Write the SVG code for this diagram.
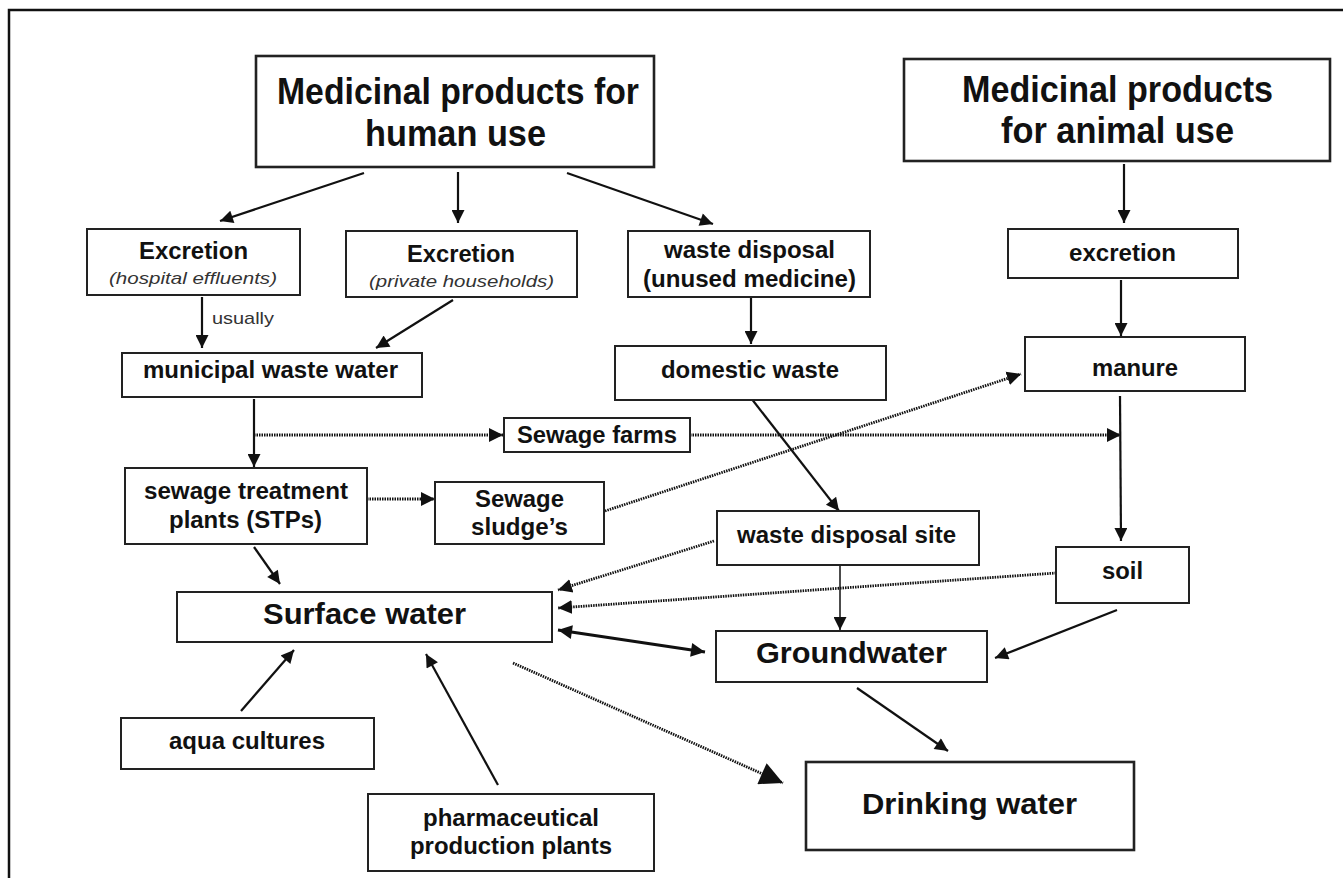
<svg xmlns="http://www.w3.org/2000/svg" width="1343" height="878" viewBox="0 0 1343 878">
<style>
.box{fill:#fff;stroke:#222;stroke-width:2}
.bbox{fill:#fff;stroke:#222;stroke-width:2.6}
text{font-family:"Liberation Sans",Arial,sans-serif;fill:#111;text-anchor:middle}
.t{font-size:37px;font-weight:bold}
.m{font-size:23px;font-weight:bold}
.l{font-size:30px;font-weight:bold}
.i{font-size:17px;font-style:italic;fill:#333}
.s{font-size:17px;fill:#333;text-anchor:start}
.c{fill:none;stroke:#111;stroke-width:2.2}
.thin{stroke-width:1.5}
.thick{stroke-width:3.2}
.d{fill:none;stroke:#111;stroke-width:2.8;stroke-dasharray:1.5 1}
</style>
<defs>
<marker id="ah" markerUnits="userSpaceOnUse" viewBox="0 0 10 10" markerWidth="17" markerHeight="13" refX="10" refY="5" orient="auto"><path d="M0,0 L10,5 L0,10 z" fill="#111"/></marker>
<marker id="ahs" markerUnits="userSpaceOnUse" viewBox="0 0 10 10" markerWidth="17" markerHeight="14" refX="10" refY="5" orient="auto-start-reverse"><path d="M0,0 L10,5 L0,10 z" fill="#111"/></marker>
<marker id="ahd" markerUnits="userSpaceOnUse" viewBox="0 0 10 10" markerWidth="14" markerHeight="16" refX="10" refY="5" orient="auto"><path d="M0,0 L10,5 L0,10 z" fill="#111"/></marker>
<marker id="ahb" markerUnits="userSpaceOnUse" viewBox="0 0 10 10" markerWidth="25" markerHeight="23" refX="10" refY="5" orient="auto"><path d="M0,0 L10,5 L0,10 z" fill="#111"/></marker>
</defs>
<rect x="0" y="0" width="1343" height="878" fill="#fff"/>
<path d="M9,878 L9,10 L1343,10" fill="none" stroke="#111" stroke-width="2.5"/>

<g id="connectors">
<line class="c" x1="364" y1="173" x2="220" y2="221" marker-end="url(#ah)"/>
<line class="c" x1="458" y1="172" x2="458" y2="223" marker-end="url(#ah)"/>
<line class="c" x1="567" y1="173" x2="713" y2="224" marker-end="url(#ah)"/>
<line class="c" x1="1124" y1="164" x2="1124" y2="223" marker-end="url(#ah)"/>
<line class="c" x1="202" y1="297" x2="202" y2="348" marker-end="url(#ah)"/>
<line class="c" x1="453" y1="300" x2="376" y2="348" marker-end="url(#ah)"/>
<line class="c" x1="751" y1="297" x2="751" y2="344" marker-end="url(#ah)"/>
<line class="c" x1="1121" y1="280" x2="1121" y2="336" marker-end="url(#ah)"/>
<line class="c" x1="254" y1="399" x2="254" y2="467" marker-end="url(#ah)"/>
<line class="c" x1="751" y1="398" x2="839" y2="511" marker-end="url(#ah)"/>
<line class="c" x1="1120" y1="396" x2="1121" y2="541" marker-end="url(#ah)"/>
<line class="c" x1="254" y1="547" x2="280" y2="584" marker-end="url(#ah)"/>
<line class="c thin" x1="840" y1="565" x2="840" y2="630" marker-end="url(#ah)"/>
<line class="c thick" x1="558" y1="630" x2="705" y2="652" marker-start="url(#ahs)" marker-end="url(#ahs)"/>
<line class="c" x1="1117" y1="610" x2="995" y2="658" marker-end="url(#ah)"/>
<line class="c" x1="857" y1="688" x2="948" y2="751" marker-end="url(#ah)"/>
<line class="c" x1="241" y1="711" x2="294" y2="650" marker-end="url(#ah)"/>
<line class="c" x1="498" y1="785" x2="426" y2="654" marker-end="url(#ah)"/>
<line class="d" x1="254" y1="435" x2="503" y2="435" marker-end="url(#ahd)"/>
<line class="d" x1="690" y1="435" x2="1121" y2="435" marker-end="url(#ahd)"/>
<line class="d" x1="367" y1="499" x2="435" y2="499" marker-end="url(#ahd)"/>
<line class="d" x1="605" y1="511" x2="1021" y2="374" marker-end="url(#ahd)"/>
<line class="d" x1="714" y1="541" x2="558" y2="590" marker-end="url(#ahd)"/>
<line class="d" x1="1056" y1="573" x2="558" y2="608" marker-end="url(#ahd)"/>
<line class="d" x1="513" y1="663" x2="783" y2="783" marker-end="url(#ahb)"/>
</g>

<g id="human"><rect class="bbox" x="256" y="56" width="398" height="111"/>
<text class="t" x="458" y="104" textLength="362" lengthAdjust="spacingAndGlyphs">Medicinal products for</text>
<text class="t" x="455.5" y="146" textLength="181" lengthAdjust="spacingAndGlyphs">human use</text></g>

<g id="animal"><rect class="bbox" x="904" y="59" width="426" height="102"/>
<text class="t" x="1117.5" y="102" textLength="311" lengthAdjust="spacingAndGlyphs">Medicinal products</text>
<text class="t" x="1117.5" y="143" textLength="233" lengthAdjust="spacingAndGlyphs">for animal use</text></g>

<g id="excretion-hospital"><rect class="box" x="87" y="229" width="213" height="66"/>
<text class="m" x="193.5" y="259" textLength="109" lengthAdjust="spacingAndGlyphs">Excretion</text>
<text class="i" x="193" y="284" textLength="168" lengthAdjust="spacingAndGlyphs">(hospital effluents)</text></g>

<g id="excretion-private"><rect class="box" x="346" y="231" width="231" height="66"/>
<text class="m" x="461" y="262" textLength="108" lengthAdjust="spacingAndGlyphs">Excretion</text>
<text class="i" x="461.5" y="287" textLength="185" lengthAdjust="spacingAndGlyphs">(private households)</text></g>

<g id="waste-disposal"><rect class="box" x="628" y="231" width="242" height="66"/>
<text class="m" x="749.5" y="258" textLength="171" lengthAdjust="spacingAndGlyphs">waste disposal</text>
<text class="m" x="749.5" y="287" textLength="213" lengthAdjust="spacingAndGlyphs">(unused medicine)</text></g>

<g id="excretion-animal"><rect class="box" x="1008" y="229" width="230" height="49"/>
<text class="m" x="1122.5" y="261" textLength="107" lengthAdjust="spacingAndGlyphs">excretion</text></g>

<g id="usually-label"><text class="s" x="212" y="324" textLength="62" lengthAdjust="spacingAndGlyphs">usually</text></g>

<g id="municipal"><rect class="box" x="122" y="353" width="300" height="44"/>
<text class="m" x="270.5" y="378" textLength="255" lengthAdjust="spacingAndGlyphs">municipal waste water</text></g>

<g id="domestic"><rect class="box" x="615" y="346" width="271" height="54"/>
<text class="m" x="750" y="378" textLength="178" lengthAdjust="spacingAndGlyphs">domestic waste</text></g>

<g id="manure"><rect class="box" x="1025" y="337" width="220" height="54"/>
<text class="m" x="1135" y="376" textLength="86" lengthAdjust="spacingAndGlyphs">manure</text></g>

<g id="sewage-farms"><rect class="box" x="504" y="418" width="186" height="34"/>
<text class="m" x="597" y="443" textLength="160" lengthAdjust="spacingAndGlyphs">Sewage farms</text></g>

<g id="stp"><rect class="box" x="125" y="468" width="242" height="76"/>
<text class="m" x="246" y="499" textLength="204" lengthAdjust="spacingAndGlyphs">sewage treatment</text>
<text class="m" x="245.5" y="528" textLength="153" lengthAdjust="spacingAndGlyphs">plants (STPs)</text></g>

<g id="sludge"><rect class="box" x="435" y="482" width="169" height="62"/>
<text class="m" x="519.5" y="507" textLength="89" lengthAdjust="spacingAndGlyphs">Sewage</text>
<text class="m" x="519.5" y="535" textLength="97" lengthAdjust="spacingAndGlyphs">sludge’s</text></g>

<g id="waste-site"><rect class="box" x="717" y="511" width="262" height="54"/>
<text class="m" x="846.5" y="543" textLength="219" lengthAdjust="spacingAndGlyphs">waste disposal site</text></g>

<g id="soil"><rect class="box" x="1056" y="547" width="133" height="56"/>
<text class="m" x="1122.5" y="579" textLength="41" lengthAdjust="spacingAndGlyphs">soil</text></g>

<g id="surface"><rect class="box" x="177" y="592" width="375" height="50"/>
<text class="l" x="364.5" y="624" textLength="203" lengthAdjust="spacingAndGlyphs">Surface water</text></g>

<g id="groundwater"><rect class="box" x="716" y="631" width="271" height="51"/>
<text class="l" x="851.5" y="663" textLength="191" lengthAdjust="spacingAndGlyphs">Groundwater</text></g>

<g id="aqua"><rect class="box" x="121" y="718" width="253" height="51"/>
<text class="m" x="247" y="749" textLength="156" lengthAdjust="spacingAndGlyphs">aqua cultures</text></g>

<g id="pharma"><rect class="box" x="368" y="794" width="286" height="77"/>
<text class="m" x="511" y="826" textLength="176" lengthAdjust="spacingAndGlyphs">pharmaceutical</text>
<text class="m" x="511" y="854" textLength="202" lengthAdjust="spacingAndGlyphs">production plants</text></g>

<g id="drinking"><rect class="bbox" x="806" y="762" width="328" height="88"/>
<text class="l" x="969.5" y="814" textLength="215" lengthAdjust="spacingAndGlyphs">Drinking water</text></g>
</svg>
